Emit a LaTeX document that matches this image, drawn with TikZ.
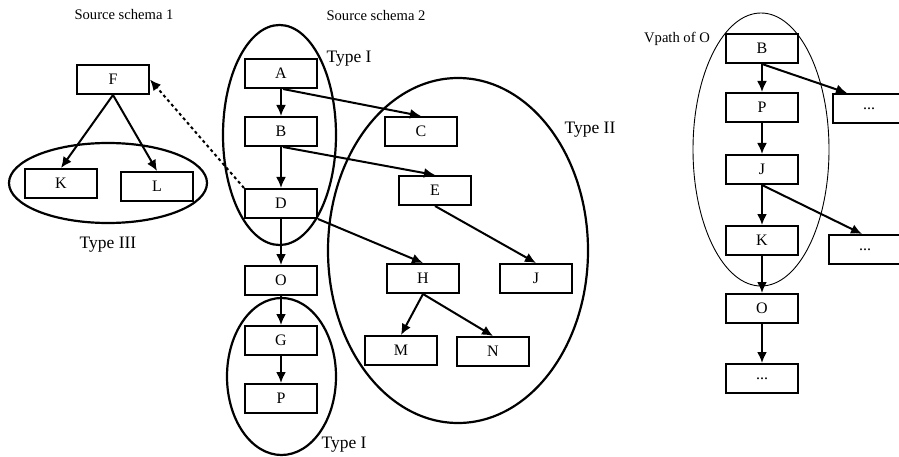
\documentclass[tikz,border=0pt]{standalone}
\usepackage{fontspec}
\setmainfont{Liberation Serif}
\usetikzlibrary{arrows.meta,calc}
\begin{document}
\begin{tikzpicture}[x=1pt,y=-1pt,
  box/.style={draw,line width=2pt,minimum width=72pt,minimum height=29pt,inner sep=0pt,
    font=\fontsize{16}{19}\selectfont},
  link/.style={line width=2pt,-{Latex[length=11pt,width=10pt]}},
  group/.style={line width=2.2pt},
  thingroup/.style={line width=0.9pt},
  caption/.style={font=\fontsize{17.5}{20}\selectfont,inner sep=0pt},
  small/.style={font=\fontsize{14.6}{17}\selectfont,inner sep=0pt}]
\useasboundingbox (0,0) rectangle (899,457);

% source schema 1
\node[small] (s1) at (124,15) {Source schema 1};
\node[box] (F) at (113,79.5) {F};
\node[box] (K) at (61,183.5) {K};
\node[box] (L) at (157,186.5) {L};
\draw[group] (108,183) ellipse [x radius=99, y radius=40];
\node[caption] (t3) at (108,245) {Type III};
\draw[link] (F.south) -- (K.north);
\draw[link] (F.south) -- (L.north);

% source schema 2
\node[small] (s2) at (376,16) {Source schema 2};
\node[box] (A) at (281,73.5) {A};
\node[box] (B) at (281,131.5) {B};
\node[box] (D) at (281,203.5) {D};
\node[box] (O) at (281,280.5) {O};
\node[box] (G) at (281,340.5) {G};
\node[box] (P) at (281,398.5) {P};
\node[box] (C) at (421,131.5) {C};
\node[box] (E) at (435,190.5) {E};
\node[box] (H) at (423,278.5) {H};
\node[box] (J) at (536,278.5) {J};
\node[box] (M) at (401,350.5) {M};
\node[box] (N) at (493,351.5) {N};

\draw[group] (279.5,135) ellipse [x radius=56.5, y radius=110];
\draw[group] (281.5,376.5) ellipse [x radius=54.5, y radius=78.5];
\draw[group] (458,250.5) ellipse [x radius=130, y radius=172.5];
\node[caption] (t1a) at (349,59) {Type I};
\node[caption] (t1b) at (344,445) {Type I};
\node[caption] (t2) at (590,130) {Type II};

\draw[link] (A.south) -- (B.north);
\draw[link] (B.south) -- (D.north);
\draw[link] (D.south) -- (O.north);
\draw[link] (O.south) -- (G.north);
\draw[link] (G.south) -- (P.north);
\draw[link] ($(A.south)+(2,0)$) -- (C.north);
\draw[link] ($(B.south)+(2,0)$) -- (E.north);
\draw[link] (D.south east) -- (H.north);
\draw[link] (E.south) -- (J.north);
\draw[link] (H.south) -- (M.north);
\draw[link] (H.south) -- (N.north);
\draw[link,dash pattern=on 3pt off 3pt,line cap=butt] (D.north west) -- (F.east);

% vpath of O
\node[small] (vp) at (677,39) {Vpath of O};
\node[box] (B2) at (762,48.5) {B};
\node[box] (P2) at (762,107.5) {P};
\node[box] (J2) at (762,169.5) {J};
\node[box] (K2) at (762,240.5) {K};
\node[box] (O2) at (762,308.5) {O};
\node[box] (X1) at (762,378.5) {...};
\node[box] (X2) at (869,108.5) {...};
\node[box] (X3) at (865,249.5) {...};
\draw[thingroup] (761,149.5) ellipse [x radius=68, y radius=136.5];
\draw[link] (B2.south) -- (P2.north);
\draw[link] (P2.south) -- (J2.north);
\draw[link] (J2.south) -- (K2.north);
\draw[link] (K2.south) -- (O2.north);
\draw[link] (O2.south) -- (X1.north);
\draw[link] (B2.south) -- ($(X2.north west)+(15,0)$);
\draw[link] (J2.south) -- ($(X3.north west)+(34,0)$);
\end{tikzpicture}
\end{document}
